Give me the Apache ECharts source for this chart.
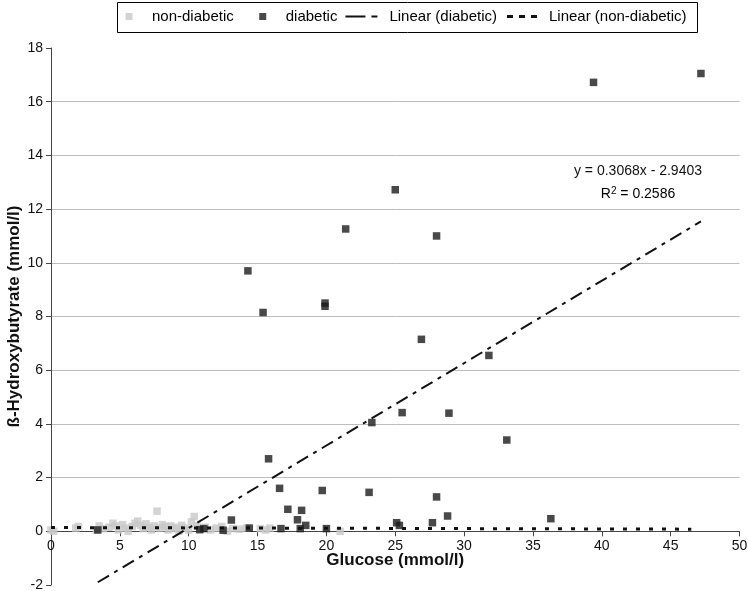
<!DOCTYPE html>
<html>
<head>
<meta charset="utf-8">
<script src="https://cdn.jsdelivr.net/npm/echarts@6/dist/echarts.min.js"></script>
<style>
html,body{margin:0;padding:0;background:#fff;}
#chart{width:748px;height:591px;}
</style>
</head>
<body>
<div id="chart"></div>
<script>
// ---- data ----
var nonDiabetic = [
  [0.0,0.05],[0.2,0.0],[1.8,0.12],[2.0,0.18],[3.3,0.05],[3.5,0.2],[3.8,0.1],[4.2,0.15],
  [4.5,0.3],[4.7,0.2],[4.9,0.05],[5.2,0.25],[5.4,0.12],[5.6,0.0],[5.9,0.18],[6.1,0.3],
  [6.3,0.38],[6.5,0.22],[6.7,0.1],[6.9,0.28],[7.1,0.15],[7.3,0.05],[7.5,0.2],[7.7,0.75],
  [7.9,0.12],[8.1,0.25],[8.3,0.18],[8.5,0.05],[8.7,0.2],[8.9,0.1],[9.1,0.15],[9.3,0.0],
  [9.5,0.22],[9.7,0.12],[10.0,0.05],[10.2,0.35],[10.4,0.55],[10.6,0.2],[10.8,0.1],
  [11.2,0.15],[11.6,0.05],[12.0,0.12],[12.4,0.18],[12.8,0.0],[13.2,0.1],[13.7,0.08],
  [14.2,0.12],[15.2,0.1],[15.6,0.05],[15.9,0.12],[21.0,0.0]
];
var diabetic = [
  [47.2,17.05],[39.4,16.72],[25.0,12.72],[21.4,11.26],[28.0,11.0],[14.3,9.7],[19.9,8.5],
  [19.9,8.38],[15.4,8.15],[26.9,7.15],[31.8,6.55],[25.5,4.42],[28.9,4.4],[23.3,4.05],
  [33.1,3.4],[15.8,2.7],[16.6,1.6],[19.7,1.52],[23.1,1.45],[28.0,1.28],[17.2,0.82],
  [18.2,0.78],[28.8,0.57],[36.3,0.47],[13.1,0.42],[17.9,0.43],[27.7,0.32],[25.1,0.32],
  [25.3,0.22],[18.5,0.22],[14.4,0.12],[16.7,0.1],[18.1,0.1],[20.0,0.1],[12.5,0.04],
  [11.1,0.1],[10.8,0.06],[3.4,0.05]
];
var diabTrend = {slope: 0.3068, intercept: -2.9403, xStart: 3.4, xEnd: 47.2};
var nonDiabTrend = {slope: -0.0013, intercept: 0.14, xStart: 0, xEnd: 46.5};
var xTicks = [0,5,10,15,20,25,30,35,40,45,50];
var yTicks = [-2,0,2,4,6,8,10,12,14,16,18];
var seriesNames = ['non-diabetic','diabetic','Linear (diabetic)','Linear (non-diabetic)'];
var equationText = ['y = 0.3068x - 2.9403', 'R', '2', ' = 0.2586'];

function trendPoints(t){
  return [[t.xStart, t.slope*t.xStart + t.intercept],[t.xEnd, t.slope*t.xEnd + t.intercept]];
}

var W = 748, H = 591;
var gridBox = {left: 51, right: 8.5, top: 48, bottom: 6};
var yMin = yTicks[0], yMax = yTicks[yTicks.length-1];
var plotH = H - gridBox.top - gridBox.bottom;
// move the x axis (line, ticks, labels, title) up to y = 0
var xAxisOffset = -(0 - yMin) * plotH / (yMax - yMin);

var chart = echarts.init(document.getElementById('chart'), null, {renderer:'canvas'});
var font = 'Liberation Sans, Arial, sans-serif';
// legend icons, all drawn in a 39 x 7 box
var iconSquare = 'path://M0,0M39,7M17.5,0H24.5V7H17.5Z';
var iconDashDot = 'path://M0,0M39,7M0,2.5H20V4.5H0Z M26,2.5H32V4.5H26Z';
var iconDots = 'path://M0,0M39,7M2,2H8V5H2Z M14,2H20V5H14Z M26,2H32V5H26Z';
var option = {
  animation: false,
  textStyle: {fontFamily: font},
  grid: {left: gridBox.left, right: gridBox.right, top: gridBox.top, bottom: gridBox.bottom,
         containLabel: false, outerBoundsMode: 'none'},
  legend: {
    left: 108, top: 9,
    width: 720,
    padding: 0,
    itemGap: 8,
    itemWidth: 39, itemHeight: 7,
    symbolKeepAspect: false,
    textStyle: {fontFamily: font, fontSize: 15, color: '#000', padding:[0,0,0,0]},
    data: [
      {name: seriesNames[0], icon: iconSquare},
      {name: seriesNames[1], icon: iconSquare},
      {name: seriesNames[2], icon: iconDashDot},
      {name: seriesNames[3], icon: iconDots}
    ]
  },
  xAxis: {
    type: 'value', min: xTicks[0], max: xTicks[xTicks.length-1], interval: 5,
    offset: xAxisOffset,
    axisLine: {onZero: false, lineStyle: {color: '#444', width: 1}},
    axisTick: {show: true, length: 5, lineStyle: {color: '#444'}},
    axisLabel: {fontSize: 14, color: '#111', margin: 8, fontFamily: font},
    splitLine: {show: false},
    name: 'Glucose (mmol/l)', nameLocation: 'middle', nameGap: 21,
    nameMoveOverlap: false,
    nameTextStyle: {fontWeight: 'bold', fontSize: 17, color: '#111', fontFamily: font}
  },
  yAxis: {
    type: 'value', min: yMin, max: yMax, interval: 2,
    axisLine: {show: true, onZero: false, lineStyle: {color: '#444', width: 1}},
    axisTick: {show: true, length: 5, lineStyle: {color: '#444'}},
    axisLabel: {fontSize: 14, color: '#111', margin: 8, fontFamily: font},
    splitLine: {show: true, showMinLine: false, showMaxLine: false, lineStyle: {color: '#bdbdbd', width: 1}},
    name: 'ß-Hydroxybutyrate (mmol/l)', nameLocation: 'middle', nameGap: 28,
    nameMoveOverlap: false,
    nameTextStyle: {fontWeight: 'bold', fontSize: 17, color: '#111', fontFamily: font}
  },
  series: [
    {name: seriesNames[0], type: 'scatter', symbol: 'rect', symbolSize: 7.5,
     itemStyle: {color: '#c8c8c8'}, data: nonDiabetic, z: 2},
    {name: seriesNames[1], type: 'scatter', symbol: 'rect', symbolSize: 7.5,
     itemStyle: {color: '#1c1c1c'}, data: diabetic, z: 3},
    {name: seriesNames[2], type: 'line', symbol: 'none', data: trendPoints(diabTrend),
     lineStyle: {color: '#111', width: 2, type: [13,6,4,6]}, itemStyle: {color:'#111'}, z: 4},
    {name: seriesNames[3], type: 'line', symbol: 'none', data: trendPoints(nonDiabTrend),
     lineStyle: {color: '#111', width: 3, type: [4,9]}, itemStyle: {color:'#111'}, z: 4}
  ],
  graphic: [
    {type: 'rect', shape: {x: 117.5, y: 2.5, width: 580, height: 30},
     style: {fill: 'none', stroke: '#000', lineWidth: 1}},
    {type: 'text', x: 638, y: 164,
     style: {text: equationText[0], font: '14px ' + font, fill: '#111', align: 'center'}},
    {type: 'text', x: 638, y: 186,
     style: {text: '{n|' + equationText[1] + '}{s|' + equationText[2] + '}{n|' + equationText[3] + '}',
       align: 'center',
       rich: {n: {fontSize: 14, fontFamily: font, color:'#111'},
              s: {fontSize: 10, fontFamily: font, verticalAlign: 'top', color:'#111', padding:[0,0,6,0]}}}}
  ]
};
chart.setOption(option);
</script>
</body>
</html>
